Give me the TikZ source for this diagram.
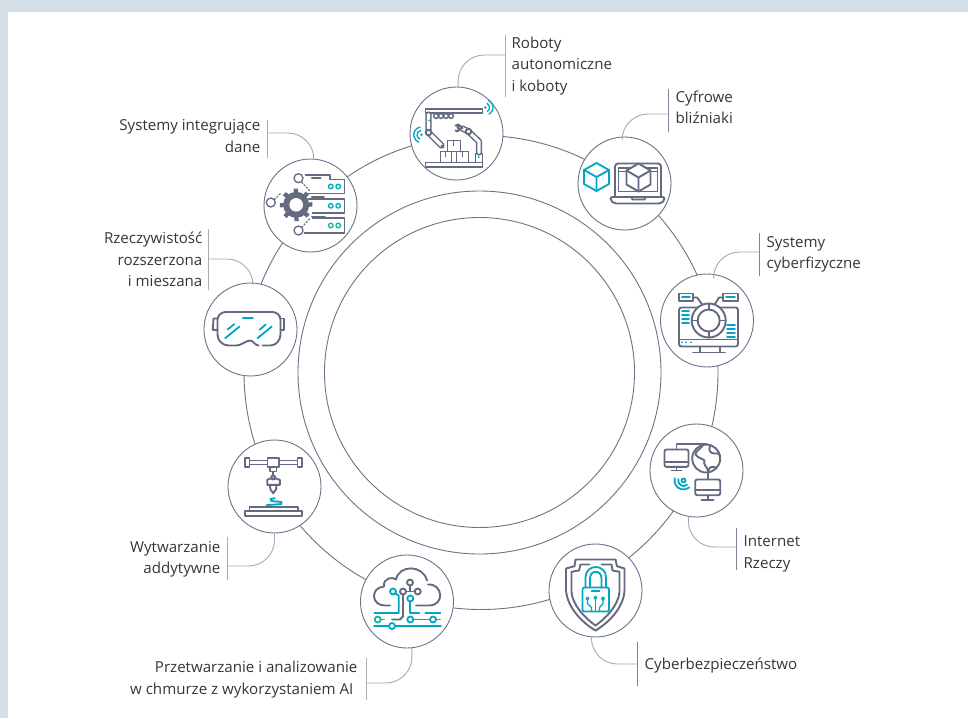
\documentclass[tikz,border=0pt]{standalone}
\usepackage{fontspec}
\setmainfont{Open Sans}
\usetikzlibrary{arrows.meta,positioning,calc}
\definecolor{pagebg}{HTML}{D5DDE8}
\definecolor{ringline}{HTML}{6C7388}
\definecolor{leaderline}{HTML}{A4A9B6}
\definecolor{barcolor}{HTML}{7F8596}
\definecolor{iconline}{HTML}{646B80}
\definecolor{iconteal}{HTML}{00A6C2}
\definecolor{icongreen}{HTML}{12B5A2}
\definecolor{textcolor}{HTML}{33363E}
\tikzset{
  ring/.style       = {circle, draw=ringline, line width=0.9pt, inner sep=0pt},
  hub/.style        = {circle, draw=ringline, line width=0.9pt, inner sep=0pt, minimum size=93pt, fill=white},
  leader/.style     = {draw=leaderline, line width=0.9pt, rounded corners=26pt},
  barline/.style    = {rectangle, draw=barcolor, line width=0.9pt, inner sep=0pt, minimum width=0pt},
  labeltext/.style  = {inner sep=0pt, text=textcolor, font=\fontsize{15.1}{21.5}\selectfont},
  gline/.style      = {draw=iconline, line width=1.9pt, line join=round, line cap=round},
  tline/.style      = {draw=iconteal, line width=1.8pt, line join=round, line cap=round},
  nline/.style      = {draw=icongreen, line width=1.8pt, line join=round, line cap=round}
}

\begin{document}
\begin{tikzpicture}[x=1pt, y=-1pt]
\useasboundingbox (0,0) rectangle (968,718);
\fill[pagebg] (0,0) rectangle (968,718);
\fill[white] (8,12) rectangle (968,718);

% Rings
\node[ring, minimum size=310pt] (inner) at (479.5,372.5) {};
\node[ring, minimum size=363pt] (middle) at (479.5,372.5) {};
\node[ring, minimum size=474pt] (outer) at (481,372.5) {};

% Hubs
\node[hub] (robots) at (456.5,133.5) {};
\node[hub] (twins) at (624.5,183.5) {};
\node[hub] (cps) at (707,320.5) {};
\node[hub] (iot) at (696.5,470.5) {};
\node[hub] (cyber) at (595.5,590.5) {};
\node[hub] (cloud) at (407,601.5) {};
\node[hub] (additive) at (274.5,486.5) {};
\node[hub] (reality) at (250.5,329.5) {};
\node[hub] (data) at (310.5,205.5) {};

% Bars
\node[barline, minimum height=62pt] (robotsbar) at (505,66) {};
\node[barline, minimum height=43pt] (twinsbar) at (668,110.5) {};
\node[barline, minimum height=43pt] (cpsbar) at (759,254.5) {};
\node[barline, minimum height=42pt] (iotbar) at (736,549) {};
\node[barline, minimum height=44pt] (cyberbar) at (637,664) {};
\node[barline, minimum height=42pt] (cloudbar) at (366,679) {};
\node[barline, minimum height=43pt] (additivebar) at (227,558.5) {};
\node[barline, minimum height=61pt] (realitybar) at (208,259.5) {};
\node[barline, minimum height=38pt] (databar) at (267,139) {};

% Labels
\node[labeltext, align=left, right=6pt of robotsbar] (robotstext) {Roboty\\autonomiczne\\i koboty};
\node[labeltext, align=left, right=7pt of twinsbar, yshift=3pt] (twinstext) {Cyfrowe\\bliźniaki};
\node[labeltext, align=left, right=7pt of cpsbar] (cpstext) {Systemy\\cyberfizyczne};
\node[labeltext, align=left, right=7pt of iotbar, yshift=-5pt] (iottext) {Internet\\Rzeczy};
\node[labeltext, align=left, right=7pt of cyberbar, yshift=-2pt] (cybertext) {Cyberbezpieczeństwo};
\node[labeltext, align=right, left=8pt of cloudbar, yshift=-0.5pt] (cloudtext) {Przetwarzanie i analizowanie\\w chmurze z wykorzystaniem AI\hspace*{4pt}};
\node[labeltext, align=right, left=6pt of additivebar, yshift=-1pt] (additivetext) {Wytwarzanie\\addytywne};
\node[labeltext, align=right, left=5pt of realitybar] (realitytext) {Rzeczywistość\\rozszerzona\\i mieszana};
\node[labeltext, align=right, left=6pt of databar, yshift=3pt] (datatext) {Systemy integrujące\\dane};

% Leader feet
\coordinate (robotsfoot) at (505,55);
\coordinate (twinsfoot) at (668,114);
\coordinate (cpsfoot) at (759,252);
\coordinate (iotfoot) at (736,547);
\coordinate (cyberfoot) at (637,664);
\coordinate (cloudfoot) at (366,683);
\coordinate (additivefoot) at (227,566);
\coordinate (realityfoot) at (208,259);
\coordinate (datafoot) at (267,133);

% Connections
\draw[leader] (robots.88) |- (robotsfoot);
\draw[leader] (twins.93) |- (twinsfoot);
\draw[leader] (cps.82) |- (cpsfoot);
\draw[leader] (iot.-100) |- (iotfoot);
\draw[leader] (cyber.-95) |- (cyberfoot);
\draw[leader] (cloud.-84) |- (cloudfoot);
\draw[leader] (additive.-90) |- (additivefoot);
\draw[leader] (reality.87) |- (realityfoot);
\draw[leader] (data.86) |- (datafoot);

% Robots icon
\begin{scope}[shift={(robots.center)}]
  \draw[gline] (-31,-24.5) rectangle (26,-20.5);
  \draw[gline, line width=1.5pt, double=white, double distance=3.2pt] (-28,-19) -- (-28,-1) -- (-15,12);
  \draw[gline] (-15,12) -- (-13,14);
  \foreach \px in {-20.5,-15.5,-10.5,-5.5} \draw[gline, line width=1.5pt] (\px,-17.5) circle[radius=2.4];
  \draw[gline, fill=white] (-28,-1) circle[radius=2.8];
  \fill[icongreen] (-27.5,-13) circle[radius=1];
  \draw[gline] (-31,29) rectangle (26,33.5);
  \draw[gline] (-16,18) rectangle (-5,29);
  \draw[gline] (0,18) rectangle (12,29);
  \draw[gline] (-9,7) rectangle (4,18);
  \draw[gline] (-3,7) -- (-3,12) (-11,18) -- (-11,23) (6,18) -- (6,23);
  \draw[gline] (19,29) -- (19,20) -- (26,20) -- (26,29);
  \draw[gline, line width=1.5pt, double=white, double distance=3.2pt] (22.5,19) -- (22.5,8) -- (12,-2) -- (6,-5);
  \draw[gline, fill=white] (12,-2) circle[radius=2.8];
  \fill[iconteal] (22,23.5) circle[radius=1];
  \draw[gline] (6,-5) -- (2,-9) -- (-1,-8) (3,-4) -- (1,-2) -- (-1,-3) (2,-9) -- (1,-6) -- (3,-4);
  \fill[iconteal] (28.7,-26) circle[radius=1.4];
  \draw[tline, line width=1.3pt] (28.7,-26) ++(-65:4.5) arc (-65:60:4.5);
  \draw[tline, line width=1.3pt] (28.7,-26) ++(-65:7.8) arc (-65:60:7.8);
  \fill[iconteal] (-35,1.3) circle[radius=1.4];
  \draw[tline, line width=1.3pt] (-35,1.3) ++(-100:4.5) arc (-100:-250:4.5);
  \draw[tline, line width=1.3pt] (-35,1.3) ++(-100:7.8) arc (-100:-250:7.8);
\end{scope}

% Twins icon
\begin{scope}[shift={(twins.center)}]
  \draw[tline] (-28,-20.5) -- (-15.5,-13.5) -- (-15.5,0.5) -- (-28,7.5) -- (-40.5,0.5) -- (-40.5,-13.5) -- cycle;
  \draw[tline] (-40.5,-13.5) -- (-28,-6.5) -- (-15.5,-13.5) (-28,-6.5) -- (-28,7.5);
  \draw[gline, rounded corners=3pt] (-9.5,13) -- (-9.5,-20) -- (36.5,-20) -- (36.5,13);
  \draw[gline] (-6,8) -- (-6,-15.5) -- (33,-15.5) -- (33,8) -- cycle;
  \draw[gline] (-6,-12) -- (33,-12);
  \draw[gline, rounded corners=2pt] (-14,13.5) -- (40,13.5) -- (40,17) -- (36,20) -- (-10,20) -- (-14,17) -- cycle;
  \draw[gline] (7,13.5) -- (8,16) -- (20,16) -- (21,13.5);
  \draw[gline, fill=white] (14,-20) -- (26,-13) -- (26,1) -- (14,8) -- (2,1) -- (2,-13) -- cycle;
  \draw[gline] (2,-13) -- (14,-6) -- (26,-13) (14,-6) -- (14,8);
\end{scope}

% Cyber-physical icon
\begin{scope}[shift={(cps.center)}]
  \draw[gline, rounded corners=2.5pt] (-28,-13) rectangle (31,26);
  \draw[gline] (-28,19) -- (31,19);
  \draw[gline] (-7,26) -- (-7,32) (13,26) -- (13,32) (-14,32) -- (18,32);
  \draw[gline] (-28,-27) rectangle (-14,-19.5);
  \draw[gline] (16,-27) rectangle (31,-19.5);
  \draw[tline] (-25,-23.2) -- (-17,-23.2);
  \draw[tline] (19,-23.2) -- (28,-23.2);
  \draw[gline] (-14,-23) -- (-10,-23) -- (-4,-15);
  \draw[gline] (16,-23) -- (12,-23) -- (7,-15);
  \draw[gline, fill=white] (1.7,0) circle[radius=17];
  \draw[gline] (1.7,0) circle[radius=11];
  \foreach \ang in {0,90,180,270} \draw[gline] (1.7,0) ++(\ang:11) -- ++(\ang:6);
  \foreach \py in {-9.5,-5.7,-1.7,2.3} \draw[tline] (-25,\py) -- (-18,\py);
  \foreach \py in {4.7,8.7,12.7,16.7} \draw[tline] (20,\py) -- (28,\py);
  \foreach \px in {-25,-21,-16} \fill[iconteal] (\px,21.8) circle[radius=1];
\end{scope}

% Things icon
\begin{scope}[shift={(iot.center)}]
  \draw[gline, rounded corners=2pt] (-32,-21) rectangle (-8,-3.7);
  \draw[gline] (-32,-8.7) -- (-8,-8.7) (-20,-3.7) -- (-20,0) (-25,0) -- (-15,0);
  \draw[gline] (-20,-21) -- (-20,-26.3) -- (10,-26.3);
  \draw[gline, fill=white] (9.7,-12) circle[radius=14];
  \draw[gline] (7,-26) .. controls (3,-20) and (-1,-20) .. (-1,-16) .. controls (2,-12) and (6,-12) .. (8,-10) .. controls (6,-6) and (11,-4) .. (11.7,1.3);
  \draw[gline] (14,-25.5) .. controls (11,-20) and (14,-17) .. (18,-17) .. controls (24,-18) and (23,-15) .. (23.5,-12);
  \draw[gline] (11.7,1.3) .. controls (12.5,-3) and (15,-5) .. (19,-3);
  \draw[gline] (11.7,1.3) -- (11.7,9);
  \draw[gline, rounded corners=2pt] (-1.3,9) rectangle (23.7,24.7);
  \draw[gline] (-1.3,19.5) -- (23.7,19.5) (11.5,24.7) -- (11.5,29.5) (5,29.7) -- (17,29.7);
  \draw[tline] (-13,10) circle[radius=2];
  \draw[tline] (-13,10) ++(-165:5.5) arc (-165:-310:5.5);
  \draw[tline] (-13,10) ++(-165:9) arc (-165:-310:9);
\end{scope}

% Shield icon
\begin{scope}[shift={(cyber.center)}]
  \draw[gline] (-29.5,-22) -- (-21,-24.3) -- (-20,-31) -- (20,-31) -- (21.5,-24.3) -- (29,-22) -- (29,0) .. controls (28,18) and (12,33) .. (0,40) .. controls (-12,33) and (-28,18) .. (-29.5,0) -- cycle;
  \draw[gline] (-6,-26) -- (-15,-26) -- (-16.5,-20) -- (-24,-18.7) -- (-24,1.3) .. controls (-23,15) and (-10,28) .. (0,35) .. controls (10,28) and (23,15) .. (24,1.3) -- (24,-18.7) -- (17,-20) -- (16,-26) -- (6,-26);
  \draw[tline, rounded corners=2pt] (-13,-3) rectangle (13.5,21);
  \draw[tline] (-10,-3) -- (-10,-13) .. controls (-10,-27) and (10.5,-27) .. (10.5,-13) -- (10.5,-3);
  \draw[tline] (-5.5,-3) -- (-5.5,-12) .. controls (-5.5,-21) and (6,-21) .. (6,-12) -- (6,-3);
  \draw[tline] (-4,0.7) -- (4,0.7);
  \draw[tline, line width=1.3pt] (-8,8) circle[radius=1.5];
  \draw[tline, line width=1.3pt] (0,7.3) circle[radius=1.5];
  \draw[tline, line width=1.3pt] (7.5,8) circle[radius=1.5];
  \draw[tline, line width=1.3pt] (-8,9.5) -- (-8,13) -- (-4,17) -- (-4,21);
  \draw[tline, line width=1.3pt] (0,8.8) -- (0,21);
  \draw[tline, line width=1.3pt] (7.5,9.5) -- (7.5,13) -- (4,17) -- (4,21);
\end{scope}

% Cloud icon
\begin{scope}[shift={(cloud.center)}]
  \draw[gline] (-17,4) -- (-22,4) .. controls (-36,4) and (-37,-14) .. (-23,-15) .. controls (-24,-24) and (-14,-25) .. (-11,-22) .. controls (-8,-37) and (16,-37) .. (20,-21);
  \draw[gline] (21,-17) .. controls (36,-18) and (38,4) .. (22,4) -- (9,4);
  \draw[gline] (3,-19) circle[radius=3];
  \draw[gline] (-4,-10) circle[radius=3];
  \draw[gline] (10.7,-10) circle[radius=3];
  \draw[gline] (-1,-10) -- (7.7,-10);
  \draw[gline] (-4,-7) -- (-4,15) -- (-7,18) -- (-15,18);
  \draw[gline] (3,-16) -- (3,-10);
  \draw[tline] (-14,-10) circle[radius=3];
  \draw[tline] (-11.5,-8) -- (-8.3,-6) -- (-8.3,11.5) -- (-32.7,11.5);
  \draw[tline] (3.3,-3) circle[radius=3];
  \draw[tline] (3.3,0) -- (3.3,11.5) -- (12.3,11.5);
  \draw[tline] (18.3,11.5) -- (33.3,11.5);
  \draw[nline] (-29.3,18) circle[radius=3];
  \draw[nline] (-26.3,18) -- (-23,18);
  \draw[tline] (3.3,18) circle[radius=3];
  \draw[tline] (26,18) circle[radius=3];
  \draw[tline] (6.3,18) -- (23,18) (29,18) -- (33,18);
  \draw[tline] (-33,24.5) -- (-18,24.5) (-12,24.5) -- (34,24.5);
  \draw[tline] (-15,24.5) circle[radius=3];
\end{scope}

% Printer icon
\begin{scope}[shift={(additive.center)}]
  \draw[gline] (-25,-26) rectangle (23,-22);
  \draw[gline, fill=white] (-29.7,-28.3) rectangle (-25,-19.3);
  \draw[gline, fill=white] (23,-28.3) rectangle (27.7,-19.3);
  \draw[gline, fill=white] (-7,-28.3) rectangle (4.7,-19.3);
  \draw[gline] (-4.7,-19.3) rectangle (2,-15);
  \draw[gline] (-1.3,-15) -- (-1.3,-11);
  \draw[gline] (-1.3,-9) circle[radius=2];
  \draw[gline] (-7.3,-6.7) -- (-4,-8) -- (1.5,-8) -- (5.3,-6.7) -- (5.3,-1.7) -- (-7.3,-1.7) -- cycle;
  \draw[gline] (-4.7,-1.7) -- (-4,3) -- (-1.3,6.7) -- (1.5,3) -- (2,-1.7);
  \draw[tline] (0.3,11.7) -- (-4,12.5) -- (-3,14.5) -- (7,15.5) -- (7,17.5) -- (-8,18.7);
  \draw[gline] (-25,24.3) -- (-25,20.7) -- (23.7,20.7) -- (23.7,24.3);
  \draw[gline] (-29.7,24.3) rectangle (27.7,29.3);
\end{scope}

% Goggles icon
\begin{scope}[shift={(reality.center)}]
  \draw[gline] (12,16) -- (20,16) .. controls (26,16) and (30,10) .. (30,5) -- (30,-10) .. controls (30,-14) and (26,-17.5) .. (22,-17.5) -- (-25,-17.5) .. controls (-30,-17.5) and (-33,-13) .. (-33,-10) -- (-33,5) .. controls (-33,11) and (-28,16) .. (-22,16) -- (-14,16) .. controls (-9,16) and (-5,11) .. (0,11) .. controls (2,11) and (5,16) .. (8,16);
  \draw[gline] (-33,-11) -- (-37,-11) -- (-37.7,0.3) -- (-33,0.3);
  \draw[gline] (30,-11) -- (33.7,-11) -- (33.7,0.3) -- (30,0.3);
  \draw[tline] (-7.7,-11.3) -- (2.3,-11.3);
  \draw[tline] (-23,0) -- (-16.3,-5.3) (-25.3,8.7) -- (-11,-3);
  \draw[tline] (9,0.3) -- (15.3,-5) (7,8.7) -- (21.3,-3);
\end{scope}

% Data icon
\begin{scope}[shift={(data.center)}]
  \draw[gline, line width=1.5pt] (-5,-30.7) -- (19.7,-30.7) -- (19.7,-26) -- (34,-26) -- (34,-12) -- (-2,-12);
  \draw[gline, line width=1.5pt] (-2,-6.5) -- (34,-6.5) -- (34,7.7) -- (2,7.7);
  \draw[gline, line width=1.5pt] (2,12.7) -- (34,12.7) -- (34,27.7) -- (-6,27.7);
  \draw[gline, line width=1.5pt] (1.3,-27.3) -- (10.3,-27.3) (1.3,-8.3) -- (13.5,-8.3) (1.3,11) -- (14.5,11);
  \foreach \py in {-19,0.3} {
    \draw[tline, line width=1.3pt] (20.3,\py) circle[radius=2.3];
    \draw[tline, line width=1.3pt] (27.7,\py) circle[radius=2.3];
  }
  \draw[nline, line width=1.3pt] (20.3,20) circle[radius=2.3];
  \draw[nline, line width=1.3pt] (27.7,20) circle[radius=2.3];
  \draw[gline, line width=1.3pt, dotted] (-8.7,-23) -- (-1,-15) (-36,-6) -- (-29,-13) (-8.7,21.7) -- (-1,13.5);
  \foreach \ang in {0,45,...,315} \fill[iconline] (-14.3,-0.7) ++(\ang-11:11) -- ++(\ang-6:5.5) -- ++(\ang+90:4.4) -- ($(-14.3,-0.7)+(\ang+11:11)$) -- cycle;
  \fill[iconline] (-14.3,-0.7) circle[radius=13];
  \fill[white] (-14.3,-0.7) circle[radius=6.8];
  \draw[gline, line width=1.3pt, fill=white] (-12,-27.3) circle[radius=4.5];
  \draw[gline, line width=1.3pt, fill=white] (-39.7,-3) circle[radius=4.5];
  \draw[gline, line width=1.3pt, fill=white] (-12,25) circle[radius=4.5];
\end{scope}

\end{tikzpicture}
\end{document}
